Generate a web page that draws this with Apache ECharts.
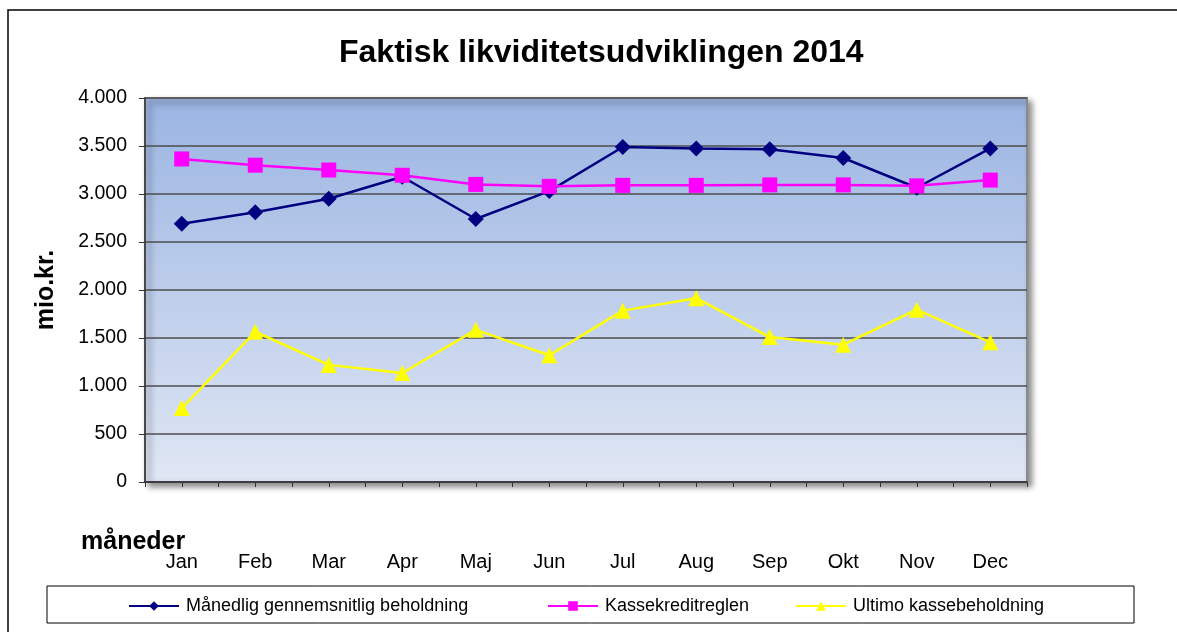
<!DOCTYPE html>
<html>
<head>
<meta charset="utf-8">
<script src="https://cdn.jsdelivr.net/npm/echarts@6/dist/echarts.min.js"></script>
<style>
  html, body { margin: 0; padding: 0; background: #fff; }
  #chart { width: 1177px; height: 632px; }
</style>
</head>
<body>
<div id="chart"></div>
<script>
// måneder
const months = ['Jan', 'Feb', 'Mar', 'Apr', 'Maj', 'Jun', 'Jul', 'Aug', 'Sep', 'Okt', 'Nov', 'Dec']
// mio.kr.
const gennemsnit = [2690, 2810, 2950, 3180, 2740, 3030, 3490, 3475, 3465, 3375, 3065, 3475]
const kassekredit = [3365, 3300, 3250, 3195, 3100, 3080, 3090, 3090, 3095, 3095, 3085, 3145]
const ultimo = [770, 1565, 1220, 1135, 1585, 1320, 1785, 1915, 1510, 1430, 1795, 1455]

const FONT = '"Liberation Sans", Arial, sans-serif'

// 4000 -> 4.000
const fmt = (v) => {
  if (v < 1000) return String(v)
  return Math.floor(v / 1000) + '.' + String(v % 1000).padStart(3, '0')
}

const chart = echarts.init(document.getElementById('chart'))

const legendItem = (name, left) => ({
  data: [name],
  left: left,
  top: 597,
  padding: 0,
  itemWidth: 50,
  itemHeight: 12,
  itemGap: 0,
  textStyle: { fontFamily: FONT, fontSize: 18, color: '#000', padding: [0, 0, 0, 2] },
  selectedMode: false
})

const option = {
  animation: false,
  title: {
    text: 'Faktisk likviditetsudviklingen 2014',
    left: 334,
    top: 32,
    textStyle: { fontFamily: FONT, fontSize: 32, fontWeight: 'bold', color: '#000' }
  },
  legend: [
    legendItem('Månedlig gennemsnitlig beholdning', 128),
    legendItem('Kassekreditreglen', 547),
    legendItem('Ultimo kassebeholdning', 795)
  ],
  graphic: [
    {
      type: 'rect',
      shape: { x: 8, y: 10, width: 1400, height: 1000 },
      style: { fill: 'none', stroke: '#000', lineWidth: 1.5 },
      silent: true
    },
    {
      type: 'rect',
      shape: { x: 47, y: 586, width: 1087, height: 37 },
      style: { fill: 'none', stroke: '#000', lineWidth: 1 },
      silent: true
    },
    {
      type: 'text',
      left: 81,
      top: 530,
      style: { text: 'måneder', fontFamily: FONT, fontSize: 25, fontWeight: 'bold', fill: '#000' }
    }
  ],
  grid: {
    left: 145,
    top: 98,
    width: 882,
    height: 384,
    show: true,
    borderColor: '#8a8a8a',
    borderWidth: 2,
    shadowColor: 'rgba(0,0,0,0.45)',
    shadowBlur: 6,
    shadowOffsetX: 4,
    shadowOffsetY: 4,
    backgroundColor: new echarts.graphic.LinearGradient(0, 0, 0, 1, [
      { offset: 0, color: '#9ab4e2' },
      { offset: 1, color: '#e0e7f4' }
    ])
  },
  xAxis: [
    {
      type: 'category',
      data: months,
      axisLine: { lineStyle: { color: '#333', width: 1.5 } },
      axisTick: { show: true, length: 5, lineStyle: { color: '#333' } },
      axisLabel: { margin: 70, fontFamily: FONT, fontSize: 20, color: '#000' }
    },
    {
      // kort tick midt i hver måned
      type: 'category',
      data: months,
      position: 'bottom',
      axisLine: { show: false },
      axisTick: { show: true, alignWithLabel: true, length: 5, lineStyle: { color: '#333' } },
      axisLabel: { show: false }
    }
  ],
  yAxis: {
    type: 'value',
    min: 0,
    max: 4000,
    interval: 500,
    name: 'mio.kr.',
    nameLocation: 'middle',
    nameRotate: 90,
    nameGap: 86,
    nameTextStyle: { fontFamily: FONT, fontSize: 25, fontWeight: 'bold', color: '#000' },
    axisLine: { show: true, lineStyle: { color: '#333', width: 1.5 } },
    axisTick: { show: true, length: 6, lineStyle: { color: '#333' } },
    axisLabel: { margin: 18, fontFamily: FONT, fontSize: 19.5, color: '#000', formatter: fmt },
    splitLine: { lineStyle: { color: '#4d4d4d', width: 1.5 } }
  },
  series: [
    {
      name: 'Månedlig gennemsnitlig beholdning',
      type: 'line',
      data: gennemsnit,
      symbol: 'diamond',
      symbolSize: 16,
      color: '#000080',
      lineStyle: { width: 2.5, color: '#000080' }
    },
    {
      name: 'Kassekreditreglen',
      type: 'line',
      data: kassekredit,
      symbol: 'rect',
      symbolSize: 15,
      color: '#ff00ff',
      lineStyle: { width: 2.5, color: '#ff00ff' }
    },
    {
      name: 'Ultimo kassebeholdning',
      type: 'line',
      data: ultimo,
      symbol: 'triangle',
      symbolSize: 16,
      color: '#ffff00',
      lineStyle: { width: 2.5, color: '#ffff00' }
    }
  ]
}

chart.setOption(option)
</script>
</body>
</html>
